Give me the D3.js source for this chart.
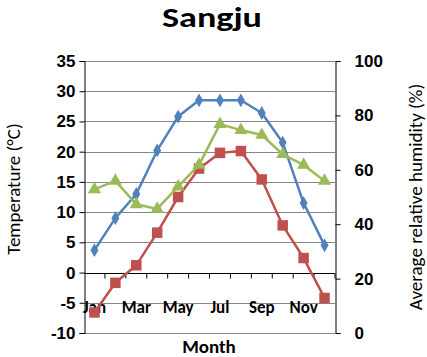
<!DOCTYPE html>
<html><head><meta charset="utf-8">
<script src="https://cdn.jsdelivr.net/npm/d3@7/dist/d3.min.js"></script>
<style>
body{margin:0;background:#fff;}
svg{display:block;font-family:Carlito,Calibri,Lato,"Open Sans",sans-serif;}
</style></head>
<body><svg id="c" width="427" height="357"></svg>
<script>
const months = ["Jan","Feb","Mar","Apr","May","Jun","Jul","Aug","Sep","Oct","Nov","Dec"];
const monthLabels = ["Jan","","Mar","","May","","Jul","","Sep","","Nov",""];
const tempMax = [3.7, 9.0, 13.0, 20.2, 25.8, 28.5, 28.5, 28.5, 26.4, 21.5, 11.5, 4.5];
const tempMin = [-6.6, -1.7, 1.2, 6.6, 12.5, 17.2, 19.8, 20.1, 15.4, 7.8, 2.4, -4.2];
const humidity = [52.8, 55.9, 47.3, 45.6, 53.8, 61.8, 76.8, 74.6, 72.8, 65.7, 61.8, 55.9];
const leftTicks = [-10,-5,0,5,10,15,20,25,30,35];
const rightTicks = [0,20,40,60,80,100];

const svg = d3.select("#c");
const L=84, R=335, T=61, B=333;
const x = d3.scaleBand().domain(months).range([L,R]);
const yL = d3.scaleLinear().domain([-10,35]).range([B,T]);
const yR = d3.scaleLinear().domain([0,100]).range([B,T]);
const fmt = d => String(d);

// gridlines
svg.append("g").selectAll("line").data(leftTicks.filter(d=>d!==0)).join("line")
  .attr("x1",L).attr("x2",R).attr("y1",d=>Math.round(yL(d))+0.5).attr("y2",d=>Math.round(yL(d))+0.5)
  .attr("stroke","#868686").attr("stroke-width",1);

// left axis
const axL = svg.append("g").attr("transform",`translate(${L+0.5},0)`)
  .call(d3.axisLeft(yL).tickValues(leftTicks).tickFormat(fmt).tickSize(5).tickPadding(4));
axL.selectAll("text").attr("font-size",17).attr("font-weight","bold").attr("fill","#000");
axL.select(".domain").attr("stroke","#000");
axL.selectAll(".tick line").attr("stroke","#000");

// right axis
const axR = svg.append("g").attr("transform",`translate(${R+0.5},0)`)
  .call(d3.axisRight(yR).tickValues(rightTicks).tickFormat(fmt).tickSize(5).tickPadding(14));
axR.selectAll("text").attr("font-size",17).attr("font-weight","bold").attr("fill","#000");
axR.select(".domain").attr("stroke","#000");
axR.selectAll(".tick line").attr("stroke","#000");

// x axis at zero
const y0 = Math.round(yL(0))+0.5;
svg.append("line").attr("x1",L).attr("x2",R).attr("y1",y0).attr("y2",y0).attr("stroke","#000");
svg.append("g").selectAll("line").data(months).join("line")
  .attr("x1",d=>x(d)+x.bandwidth()).attr("x2",d=>x(d)+x.bandwidth())
  .attr("y1",y0).attr("y2",y0+5).attr("stroke","#000");
svg.append("g").selectAll("text").data(months).join("text")
  .attr("x",(d)=>x(d)+x.bandwidth()/2).attr("y",y0+39)
  .attr("text-anchor","middle").attr("font-size",17).attr("font-weight","bold")
  .text((d,i)=>monthLabels[i]);

// lines
function series(data, y, color, shape, size){
  const line = d3.line().x((d,i)=>x(months[i])+x.bandwidth()/2).y(d=>y(d));
  svg.append("path").datum(data).attr("d",line).attr("fill","none")
    .attr("stroke",color).attr("stroke-width",2.5).attr("stroke-linejoin","round");
  svg.append("g").selectAll("path").data(data).join("path")
    .attr("transform",(d,i)=>`translate(${x(months[i])+x.bandwidth()/2},${y(d)})`)
    .attr("d",d3.symbol().type(shape).size(size)).attr("fill",color);
}
series(tempMax, yL, "#4F81BD", d3.symbolDiamond, 55);
series(tempMin, yL, "#C0504D", d3.symbolSquare, 110);
series(humidity, yR, "#9BBB59", d3.symbolTriangle, 75);

// titles
svg.append("text").attr("x",212).attr("y",27).attr("text-anchor","middle")
  .attr("font-size",28).attr("font-weight","bold")
  .attr("textLength",100).attr("lengthAdjust","spacingAndGlyphs").text("Sangju");
svg.append("text").attr("x",209).attr("y",353).attr("text-anchor","middle")
  .attr("font-size",19).attr("font-weight","bold").text("Month");
svg.append("text").attr("transform",`translate(20,189) rotate(-90)`)
  .attr("text-anchor","middle").attr("font-size",19).text("Temperature (°C)");
svg.append("text").attr("transform",`translate(422,197) rotate(-90)`)
  .attr("text-anchor","middle").attr("font-size",19).text("Average relative humidity (%)");
</script></body></html>
